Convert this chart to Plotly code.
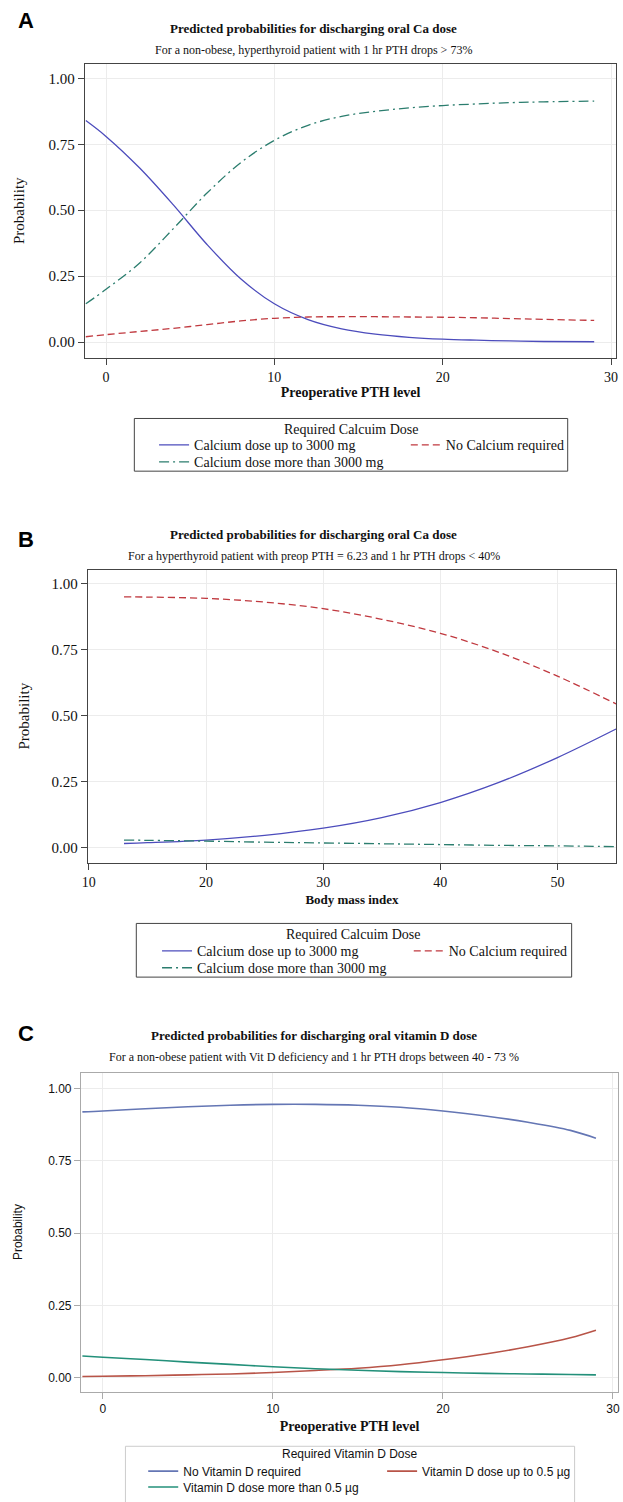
import plotly.graph_objects as go

# ---------------- data ----------------
# Panel A: preoperative PTH level vs probability (Calcium)
a_x = [-1.2, 0, 2, 4, 6, 8, 10, 12, 14, 16, 18, 20, 22, 24, 26, 29]
a_upto3000 = [0.84, 0.78, 0.66, 0.52, 0.37, 0.24, 0.145, 0.085, 0.05, 0.03, 0.018, 0.011, 0.007, 0.004, 0.002, 0.001]
a_noca = [0.02, 0.028, 0.04, 0.052, 0.066, 0.08, 0.09, 0.095, 0.096, 0.096, 0.095, 0.094, 0.092, 0.089, 0.086, 0.082]
a_more3000 = [0.145, 0.2, 0.30, 0.43, 0.565, 0.68, 0.765, 0.822, 0.856, 0.875, 0.888, 0.897, 0.903, 0.908, 0.911, 0.914]

# Panel B: body mass index vs probability (Calcium)
b_x = [13, 15, 20, 25, 30, 35, 40, 45, 50, 55]
b_upto3000 = [0.017, 0.02, 0.03, 0.048, 0.075, 0.115, 0.172, 0.248, 0.342, 0.45]
b_noca = [0.95, 0.949, 0.944, 0.93, 0.905, 0.865, 0.812, 0.74, 0.65, 0.545]
b_more3000 = [0.03, 0.029, 0.026, 0.022, 0.019, 0.016, 0.013, 0.01, 0.008, 0.005]

# Panel C: preoperative PTH level vs probability (Vitamin D)
c_x = [-1.2, 0, 2.5, 5, 7.5, 10, 12.5, 15, 17.5, 20, 22.5, 25, 27.5, 29]
c_novitd = [0.919, 0.922, 0.93, 0.937, 0.942, 0.945, 0.945, 0.942, 0.935, 0.922, 0.905, 0.883, 0.855, 0.828]
c_upto05 = [0.004, 0.005, 0.007, 0.01, 0.013, 0.018, 0.025, 0.033, 0.045, 0.062, 0.082, 0.107, 0.138, 0.164]
c_more05 = [0.075, 0.071, 0.063, 0.054, 0.046, 0.038, 0.031, 0.026, 0.021, 0.018, 0.015, 0.013, 0.011, 0.01]

y_ticks = [0, 0.25, 0.5, 0.75, 1.0]
y_labels = ["0.00", "0.25", "0.50", "0.75", "1.00"]
a_xticks = [0, 10, 20, 30]
b_xticks = [10, 20, 30, 40, 50]
c_xticks = [0, 10, 20, 30]

ca_names = ["Calcium dose up to 3000 mg", "No Calcium required", "Calcium dose more than 3000 mg"]
vd_names = ["No Vitamin D required", "Vitamin D dose up to 0.5 µg", "Vitamin D dose more than 0.5 µg"]

# ---------------- style ----------------
W, H = 623, 1502
SERIF = "Liberation Serif"
SANS = "Liberation Sans"
BLUE, RED, GREEN = "#4c4cbc", "#c0393f", "#2b7d6e"
BLUE_C, RED_C, GREEN_C = "#6476b4", "#b85448", "#23907a"
DASH = "7px,4px"
DASHDOT = "10px,4px,2px,4px"


def px_x(p):
    return p / W


def px_y(p):
    return 1 - p / H


fig = go.Figure()

# legend placement (text start x, row center y) per entry
leg_pos = {
    "A": [(190, 448), (445, 448), (190, 465)],
    "B": [(193, 957), (448, 957), (193, 974)],
    "C": [(179, 1480), (421, 1480), (179, 1496)],
}

panels = [
    ("A", a_x, [a_upto3000, a_noca, a_more3000], ca_names, [BLUE, RED, GREEN], ["solid", DASH, DASHDOT], "x", "y", SERIF, 14, 1.3),
    ("B", b_x, [b_upto3000, b_noca, b_more3000], ca_names, [BLUE, RED, GREEN], ["solid", DASH, DASHDOT], "x2", "y2", SERIF, 14, 1.3),
    ("C", c_x, [c_novitd, c_upto05, c_more05], vd_names, [BLUE_C, RED_C, GREEN_C], ["solid", "solid", "solid"], "x3", "y3", SANS, 12, 1.6),
]

legends = {}
li = 1
for key, xs, series, names, cols, dashes, xa, ya, lfont, lsize, lw in panels:
    for k in range(3):
        lname = "legend" if li == 1 else "legend%d" % li
        fig.add_trace(go.Scatter(x=xs, y=series[k], mode="lines", name=names[k],
                                 line=dict(color=cols[k], width=lw, dash=dashes[k], shape="spline"),
                                 xaxis=xa, yaxis=ya, legend=lname))
        tx, ty = leg_pos[key][k]
        legends[lname] = dict(x=px_x(tx - 40), y=px_y(ty), xanchor="left", yanchor="middle",
                              font=dict(family=lfont, size=lsize, color="#111"),
                              bgcolor="rgba(0,0,0,0)", borderwidth=0)
        li += 1


def xaxis(dom, rng, ticks, anchor, font, title, tsize, lc, standoff):
    return dict(domain=dom, range=rng, anchor=anchor, tickvals=ticks, ticktext=[str(t) for t in ticks],
                showgrid=True, gridcolor="#ececec", gridwidth=1, zeroline=False,
                showline=True, linecolor=lc, linewidth=1.2, mirror=True,
                ticks="outside", ticklen=6, tickcolor=lc, tickfont=dict(family=font, size=tsize, color="#111"),
                title=dict(text=title, font=dict(family=SERIF, size=14, color="#111"), standoff=standoff))


def yaxis(dom, rng, anchor, font, tsize, lc, standoff):
    return dict(domain=dom, range=rng, anchor=anchor, tickvals=y_ticks, ticktext=y_labels,
                showgrid=True, gridcolor="#ececec", gridwidth=1, zeroline=False,
                showline=True, linecolor=lc, linewidth=1.2, mirror=True,
                ticks="outside", ticklen=6, tickcolor=lc, tickfont=dict(family=font, size=tsize, color="#111"),
                title=dict(text="Probability", font=dict(family=font, size=tsize, color="#111"), standoff=standoff))


fig.update_layout(
    xaxis=xaxis([px_x(80), px_x(618)], [-1.25, 30.3], a_xticks, "y", SERIF, "<b>Preoperative PTH level</b>", 14, "#444", 2),
    yaxis=yaxis([px_y(360), px_y(64)], [-0.06, 1.056], "x", SERIF, 15, "#444", 20),
    xaxis2=xaxis([px_x(83), px_x(618)], [9.92, 55.0], b_xticks, "y2", SERIF, "<b>Body mass index</b>", 14, "#444", 6),
    yaxis2=yaxis([px_y(868), px_y(573)], [-0.056, 1.053], "x2", SERIF, 15, "#444", 18),
    xaxis3=xaxis([px_x(76), px_x(620)], [-1.28, 30.3], c_xticks, "y3", SANS, "<b>Preoperative PTH level</b>", 12, "#aaaaaa", 6),
    yaxis3=yaxis([px_y(1400), px_y(1079)], [-0.048, 1.055], "x3", SANS, 12, "#aaaaaa", 22),
)
fig.layout.xaxis2.title.font.size = 13

fig.update_layout(**legends)

# legend frames and titles
shapes = []
ann = []
for (x0, x1, y0, y1, col), (ttl, ty, tfont, tsize) in [
        ((130, 569, 421, 474, "#444"), ("Required Calcuim Dose", 432, SERIF, 14)),
        ((132, 573, 929, 983, "#444"), ("Required Calcuim Dose", 940, SERIF, 14)),
        ((121, 576, 1455, 1512, "#cccccc"), ("Required Vitamin D Dose", 1463, SANS, 12))]:
    shapes.append(dict(type="rect", xref="paper", yref="paper", x0=px_x(x0), x1=px_x(x1), y0=px_y(y1), y1=px_y(y0),
                       line=dict(color=col, width=1), fillcolor="rgba(0,0,0,0)", layer="below"))
    ann.append(dict(text=ttl, x=px_x((x0 + x1) / 2), y=px_y(ty), xref="paper", yref="paper", showarrow=False,
                    xanchor="center", yanchor="middle", font=dict(family=tfont, size=tsize, color="#111")))

for letter, y in [("A", 21), ("B", 543), ("C", 1040)]:
    ann.append(dict(text="<b>" + letter + "</b>", x=px_x(20), y=px_y(y), xref="paper", yref="paper",
                    xanchor="center", yanchor="middle", showarrow=False, font=dict(family=SANS, size=22, color="#000")))
titles = [("Predicted probabilities for discharging oral Ca dose", 29,
           "For a non-obese, hyperthyroid patient with 1 hr PTH drops > 73%", 50),
          ("Predicted probabilities for discharging oral Ca dose", 538,
           "For a hyperthyroid patient with preop PTH = 6.23 and 1 hr PTH drops < 40%", 559),
          ("Predicted probabilities for discharging oral vitamin D dose", 1042,
           "For a non-obese patient with Vit D deficiency and 1 hr PTH drops between 40 - 73 %", 1063)]
for t, ty, s, sy in titles:
    ann.append(dict(text="<b>" + t + "</b>", x=0.5, y=px_y(ty), xref="paper", yref="paper", showarrow=False,
                    xanchor="center", yanchor="middle", font=dict(family=SERIF, size=13, color="#111")))
    ann.append(dict(text=s, x=0.5, y=px_y(sy), xref="paper", yref="paper", showarrow=False,
                    xanchor="center", yanchor="middle", font=dict(family=SERIF, size=12, color="#111")))

fig.update_layout(annotations=ann, shapes=shapes, width=W, height=H, margin=dict(l=0, r=0, t=0, b=0),
                  font=dict(family=SERIF, color="#111"),
                  paper_bgcolor="white", plot_bgcolor="white", showlegend=True)

fig.write_html("out.html")
